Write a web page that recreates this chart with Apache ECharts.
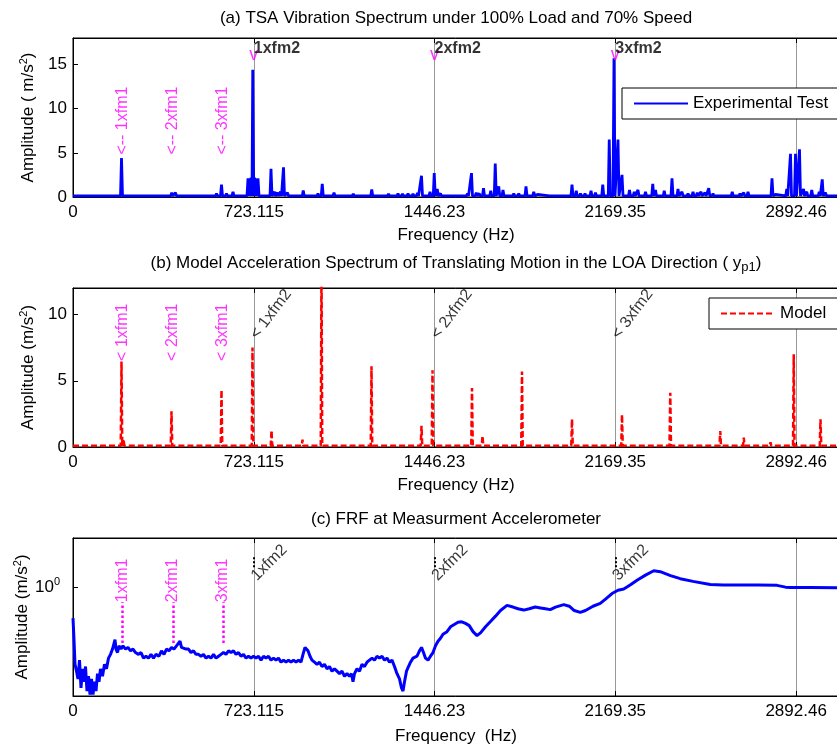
<!DOCTYPE html>
<html>
<head>
<meta charset="utf-8">
<script src="https://cdn.jsdelivr.net/npm/echarts@6.0.0/dist/echarts.min.js"></script>
<style>
  html, body { margin: 0; padding: 0; background: #fff; }
  #chart { width: 837px; height: 745px; }
</style>
</head>
<body>
<div id="chart"></div>
<script>
const fm2 = 723.115;
const xMax = 3064;
const xTickLabels = ['0', '723.115', '1446.23', '2169.35', '2892.46'];

// (a) experimental spectrum - peaks
const expPeakFreq = [194, 318, 395, 410, 518, 574, 594, 614, 640, 700, 706, 712, 719, 726, 733, 740, 765, 792, 806, 818, 830, 842, 858, 880, 921, 980, 997, 1044, 1121, 1161, 1195, 1227, 1262, 1284, 1300, 1318, 1340, 1360, 1378, 1394, 1428, 1445, 1457, 1470, 1490, 1510, 1535, 1556, 1578, 1594, 1613, 1625, 1642, 1671, 1689, 1703, 1720, 1763, 1783, 1812, 1843, 1858, 1910, 1975, 1996, 2013, 2030, 2048, 2072, 2090, 2119, 2145, 2164, 2180, 2196, 2226, 2245, 2260, 2290, 2319, 2330, 2365, 2396, 2420, 2436, 2460, 2480, 2497, 2512, 2528, 2543, 2560, 2610, 2637, 2668, 2683, 2700, 2796, 2810, 2855, 2870, 2890, 2906, 2922, 2935, 2955, 2985, 2997, 3010, 3050];
const expPeakAmp = [4.4, 0.3, 0.5, 0.5, 0.3, 0.4, 1.4, 0.4, 0.6, 2.1, 2.1, 2.2, 14.4, 2.2, 2.1, 2.1, 0.3, 3.2, 0.6, 0.5, 0.6, 3.35, 0.5, 0.3, 0.75, 0.4, 1.5, 0.5, 0.35, 0.3, 0.85, 0.3, 0.35, 0.3, 0.4, 0.35, 0.4, 0.35, 0.45, 2.4, 0.6, 2.7, 0.9, 0.4, 0.3, 0.3, 0.3, 0.3, 0.4, 2.7, 0.5, 0.4, 1.0, 0.7, 3.8, 1.2, 0.8, 0.4, 0.4, 1.2, 0.6, 0.3, 0.3, 0.3, 1.4, 0.7, 0.4, 0.4, 0.7, 0.5, 1.4, 6.5, 15.7, 6.5, 2.5, 0.8, 0.6, 0.8, 0.6, 1.5, 0.8, 0.7, 2.1, 0.9, 0.6, 0.4, 0.6, 0.5, 0.6, 0.5, 1.0, 0.4, 0.3, 0.6, 0.4, 0.5, 0.6, 2.1, 0.3, 0.9, 4.9, 4.9, 5.4, 0.9, 0.6, 0.8, 0.6, 2.0, 0.5, 0.3];
const expFloor = 0.12;

// (b) model spectrum
const modelPeakFreq = [194, 202, 394, 594, 718, 794, 918, 994, 1194, 1394, 1438, 1596, 1638, 1796, 1996, 2163, 2196, 2389, 2589, 2683, 2790, 2883, 2990];
const modelPeakAmp = [6.45, 0.6, 2.7, 4.3, 7.5, 1.25, 0.55, 14, 6.1, 1.6, 5.8, 4.45, 0.85, 5.7, 2.1, 0.25, 2.45, 4.1, 1.2, 0.7, 0.35, 7.0, 2.1];
const modelFloor = 0.1;

// (c) FRF at the accelerometer
const frfFreq = [0, 4, 8, 14, 20, 26, 32, 38, 44, 50, 56, 62, 68, 74, 80, 86, 92, 98, 104, 110, 118, 126, 134, 142, 150, 158, 164, 168, 172, 178, 184, 192, 200, 210, 220, 230, 240, 250, 262, 272, 282, 292, 302, 312, 322, 332, 344, 354, 364, 374, 384, 394, 404, 414, 422, 428, 434, 442, 452, 462, 472, 482, 492, 502, 512, 522, 532, 542, 552, 562, 572, 582, 592, 602, 612, 622, 632, 642, 652, 662, 672, 682, 692, 702, 712, 722, 732, 742, 752, 762, 772, 782, 792, 802, 812, 822, 832, 842, 852, 862, 872, 882, 892, 902, 912, 920, 928, 934, 940, 948, 956, 966, 976, 986, 996, 1006, 1016, 1026, 1036, 1046, 1056, 1066, 1076, 1086, 1096, 1106, 1114, 1120, 1126, 1136, 1146, 1156, 1166, 1176, 1186, 1196, 1206, 1216, 1226, 1236, 1246, 1256, 1266, 1276, 1286, 1296, 1306, 1314, 1320, 1326, 1334, 1342, 1350, 1360, 1368, 1376, 1386, 1394, 1402, 1410, 1420, 1430, 1440, 1450, 1460, 1470, 1480, 1496, 1510, 1525, 1540, 1555, 1570, 1585, 1600, 1616, 1630, 1650, 1669, 1690, 1710, 1736, 1760, 1780, 1803, 1825, 1849, 1870, 1890, 1909, 1930, 1963, 1985, 2005, 2029, 2050, 2080, 2109, 2130, 2156, 2180, 2203, 2230, 2256, 2290, 2323, 2349, 2390, 2429, 2480, 2549, 2600, 2670, 2740, 2816, 2850, 2870, 2950, 3064];
const frfAmp = [0.60, 0.42, 0.28, 0.25, 0.22, 0.30, 0.19, 0.26, 0.21, 0.27, 0.18, 0.23, 0.17, 0.22, 0.17, 0.21, 0.18, 0.24, 0.21, 0.26, 0.23, 0.28, 0.26, 0.31, 0.33, 0.36, 0.35, 0.42, 0.36, 0.34, 0.38, 0.36, 0.38, 0.36, 0.37, 0.35, 0.36, 0.34, 0.33, 0.34, 0.31, 0.32, 0.31, 0.33, 0.31, 0.33, 0.32, 0.35, 0.33, 0.36, 0.35, 0.37, 0.36, 0.38, 0.37, 0.41, 0.37, 0.38, 0.36, 0.36, 0.34, 0.35, 0.33, 0.33, 0.32, 0.33, 0.31, 0.32, 0.31, 0.33, 0.31, 0.32, 0.33, 0.34, 0.33, 0.35, 0.34, 0.35, 0.33, 0.34, 0.32, 0.33, 0.31, 0.32, 0.31, 0.32, 0.31, 0.32, 0.30, 0.32, 0.31, 0.32, 0.30, 0.31, 0.30, 0.31, 0.29, 0.30, 0.29, 0.30, 0.29, 0.30, 0.29, 0.30, 0.29, 0.33, 0.37, 0.38, 0.35, 0.32, 0.30, 0.29, 0.28, 0.29, 0.27, 0.28, 0.26, 0.27, 0.25, 0.26, 0.25, 0.24, 0.25, 0.23, 0.24, 0.23, 0.24, 0.21, 0.24, 0.26, 0.25, 0.28, 0.27, 0.29, 0.30, 0.31, 0.30, 0.32, 0.31, 0.32, 0.30, 0.31, 0.29, 0.30, 0.27, 0.24, 0.22, 0.19, 0.18, 0.21, 0.25, 0.27, 0.29, 0.31, 0.30, 0.32, 0.35, 0.37, 0.34, 0.31, 0.30, 0.32, 0.34, 0.38, 0.41, 0.43, 0.46, 0.48, 0.52, 0.54, 0.56, 0.565, 0.55, 0.53, 0.48, 0.45, 0.47, 0.52, 0.565, 0.62, 0.68, 0.74, 0.72, 0.70, 0.685, 0.70, 0.72, 0.71, 0.70, 0.69, 0.72, 0.75, 0.73, 0.68, 0.66, 0.68, 0.73, 0.765, 0.82, 0.90, 0.95, 0.97, 1.04, 1.12, 1.22, 1.31, 1.29, 1.21, 1.15, 1.10, 1.045, 1.035, 1.035, 1.035, 1.03, 1.00, 0.995, 0.995, 0.99];

// harmonic annotations
const fm1Freq = [198, 400, 600];
const fm1Names = ['1xfm1', '2xfm1', '3xfm1'];
const fm2Freq = [723.115, 1446.23, 2169.35];
const fm2Names = ['1xfm2', '2xfm2', '3xfm2'];

const font = 'Liberation Sans, Arial, sans-serif';
const chart = echarts.init(document.getElementById('chart'));

function spikeLine(freqs, amps, floor, half) {
    const pts = [[0, floor]];
    freqs.forEach((f, i) => {
        pts.push([f - half, floor], [f, amps[i]], [f + half, floor]);
    });
    pts.push([xMax, floor]);
    return pts;
}

function xTickFormat(v) {
    const k = Math.round(v / fm2);
    return Math.abs(v - k * fm2) < 0.5 && k < xTickLabels.length ? xTickLabels[k] : '';
}

const gridTops = [38, 288, 538];
const gridHeights = [159, 159, 158];

const grids = gridTops.map((t, i) => ({
    left: 73, top: t, width: 766, height: gridHeights[i],
    show: true, borderColor: '#000', borderWidth: 1,
    containLabel: false, outerBoundsMode: 'none'
}));

const bottomAxes = [0, 1, 2].map(i => ({
    type: 'value', gridIndex: i, min: 0, max: xMax, interval: fm2,
    name: i === 2 ? 'Frequency  (Hz)' : 'Frequency (Hz)',
    nameLocation: 'middle', nameGap: i === 2 ? 32 : 30,
    nameTextStyle: { fontSize: 17, color: '#000', fontFamily: font },
    axisLine: { lineStyle: { color: '#000' } },
    axisTick: { inside: true, length: 5, lineStyle: { color: '#000' } },
    axisLabel: { fontSize: 17, color: '#000', margin: 7, fontFamily: font, formatter: xTickFormat },
    splitLine: { show: true, lineStyle: { color: '#999', width: 1 } }
}));

const topAxes = [0, 1, 2].map(i => ({
    type: 'value', gridIndex: i, position: 'top', min: 0, max: xMax, interval: fm2,
    axisLine: { lineStyle: { color: '#000' } },
    axisTick: { inside: true, length: 5, lineStyle: { color: '#000' } },
    axisLabel: { show: false },
    splitLine: { show: false }
}));

const yRich = {
    t: { fontSize: 17, color: '#000', fontFamily: font },
    sup: { fontSize: 11, color: '#000', fontFamily: font, padding: [0, 0, 9, 0] }
};

const yBase = {
    nameLocation: 'middle', nameGap: 31, nameRotate: 90,
    nameTextStyle: { rich: yRich },
    axisLine: { show: true, lineStyle: { color: '#000' } },
    axisTick: { show: true, inside: true, length: 5, lineStyle: { color: '#000' } },
    axisLabel: { fontSize: 17, color: '#000', margin: 6, fontFamily: font, showMaxLabel: false },
    splitLine: { show: false }
};

const yAxes = [
    Object.assign({}, yBase, {
        type: 'value', gridIndex: 0, min: 0, max: 18, interval: 5,
        name: '{t|Amplitude ( m/s}{sup|2}{t|)}'
    }),
    Object.assign({}, yBase, {
        type: 'value', gridIndex: 1, min: 0, max: 12, interval: 5,
        name: '{t|Amplitude (m/s}{sup|2}{t|)}'
    }),
    Object.assign({}, yBase, {
        type: 'log', logBase: 10, gridIndex: 2, min: 0.166, max: 2.25, splitNumber: 1,
        name: '{t|Amplitude (m/s}{sup|2}{t|)}',
        nameGap: 41, nameMoveOverlap: false,
        axisLabel: {
            margin: 13, showMinLabel: false, showMaxLabel: false,
            formatter: v => Math.abs(v - 1) < 1e-6 ? '{b|10}{s|0}' : '',
            rich: {
                b: { fontSize: 17, color: '#000', fontFamily: font },
                s: { fontSize: 11, color: '#000', fontFamily: font, padding: [0, 0, 10, 0] }
            }
        }
    })
];

function rotLabel(x, y, text, color, rotate, size, weight) {
    return {
        value: [x, y],
        label: {
            show: true, formatter: text, color: color, rotate: rotate,
            position: 'right', distance: 0, fontSize: size || 16,
            fontWeight: weight || 'normal', fontFamily: font
        }
    };
}

const annotA = [];
fm1Freq.forEach((f, i) => annotA.push(rotLabel(f, 4.8, '<-- ' + fm1Names[i], '#ff00ff', 90)));
fm2Freq.forEach((f, i) => {
    annotA.push({
        value: [f, 16.1],
        label: { show: true, formatter: 'v', color: '#ff00ff', position: 'inside', fontSize: 18, fontFamily: font }
    });
    annotA.push(rotLabel(f, 16.8, fm2Names[i], '#000', 0, 16, 'bold'));
});

const annotB = [];
fm1Freq.forEach((f, i) => annotB.push(rotLabel(f, 6.5, '< ' + fm1Names[i], '#ff00ff', 90)));
fm2Freq.forEach((f, i) => annotB.push(rotLabel(f, 8.3, '< ' + fm2Names[i], '#000', 53)));

const annotC = [];
fm1Freq.forEach((f, i) => annotC.push(rotLabel(f, 0.78, fm1Names[i], '#ff00ff', 90)));
fm2Freq.forEach((f, i) => annotC.push(rotLabel(f, 1.16, fm2Names[i], '#000', 45)));

const dottedC = [];
fm1Freq.forEach(f => dottedC.push([
    { coord: [f, 0.398], lineStyle: { color: '#ff00ff', type: 'dotted', width: 2.5 } },
    { coord: [f, 0.78] }
]));
fm2Freq.forEach(f => dottedC.push([
    { coord: [f, 1.39], lineStyle: { color: '#000', type: 'dotted', width: 2 } },
    { coord: [f, 1.66] }
]));

function annotSeries(idx, data, extra) {
    return Object.assign({
        type: 'scatter', xAxisIndex: idx, yAxisIndex: idx, symbolSize: 0,
        silent: true, z: 5, data: data
    }, extra || {});
}

const legendBase = {
    itemWidth: 54, itemHeight: 14, borderColor: '#000', borderWidth: 1,
    backgroundColor: '#fff', selectedMode: false,
    itemStyle: { opacity: 0 },
    textStyle: { fontSize: 17, color: '#000', fontFamily: font }
};

chart.setOption({
    animation: false,
    textStyle: { fontFamily: font },
    title: [
        { text: '(a) TSA Vibration Spectrum under 100% Load and 70% Speed', left: 456, top: 10, textAlign: 'center', padding: 0,
          textStyle: { fontSize: 17, fontWeight: 'normal', color: '#000', fontFamily: font } },
        { text: '{t|(b) Model Acceleration Spectrum of Translating Motion in the LOA Direction ( y}{sub|p1}{t|)}', left: 456, top: 252, textAlign: 'center', padding: 0,
          textStyle: { fontWeight: 'normal', rich: {
              t: { fontSize: 17, fontWeight: 'normal', color: '#000', fontFamily: font },
              sub: { fontSize: 13, fontWeight: 'normal', color: '#000', fontFamily: font, padding: [9, 0, 0, 0] }
          } } },
        { text: '(c) FRF at Measurment Accelerometer', left: 456, top: 511, textAlign: 'center', padding: 0,
          textStyle: { fontSize: 17, fontWeight: 'normal', color: '#000', fontFamily: font } }
    ],
    legend: [
        Object.assign({ data: ['Experimental Test'], left: 622, top: 88, padding: [7, 40, 7, 11] }, legendBase),
        Object.assign({ data: ['Model'], left: 709, top: 298, padding: [7, 60, 7, 11] }, legendBase)
    ],
    grid: grids,
    xAxis: bottomAxes.concat(topAxes),
    yAxis: yAxes,
    series: [
        {
            name: 'Experimental Test', type: 'line', xAxisIndex: 0, yAxisIndex: 0,
            data: spikeLine(expPeakFreq, expPeakAmp, expFloor, 4),
            symbol: 'none', color: '#0000ff',
            lineStyle: { color: '#0000ff', width: 2.8 }
        },
        {
            name: 'Model', type: 'line', xAxisIndex: 1, yAxisIndex: 1,
            data: spikeLine(modelPeakFreq, modelPeakAmp, modelFloor, 3),
            symbol: 'none', color: '#ff0000',
            lineStyle: { color: '#ff0000', width: 2.5, type: [6, 3] }
        },
        {
            name: 'FRF', type: 'line', xAxisIndex: 2, yAxisIndex: 2,
            data: frfFreq.map((f, i) => [f, frfAmp[i]]),
            symbol: 'none', color: '#0000ff',
            lineStyle: { color: '#0000ff', width: 3 }
        },
        annotSeries(0, annotA),
        annotSeries(1, annotB),
        annotSeries(2, annotC, {
            markLine: { silent: true, symbol: ['none', 'none'], label: { show: false }, data: dottedC }
        })
    ]
});
</script>
</body>
</html>
